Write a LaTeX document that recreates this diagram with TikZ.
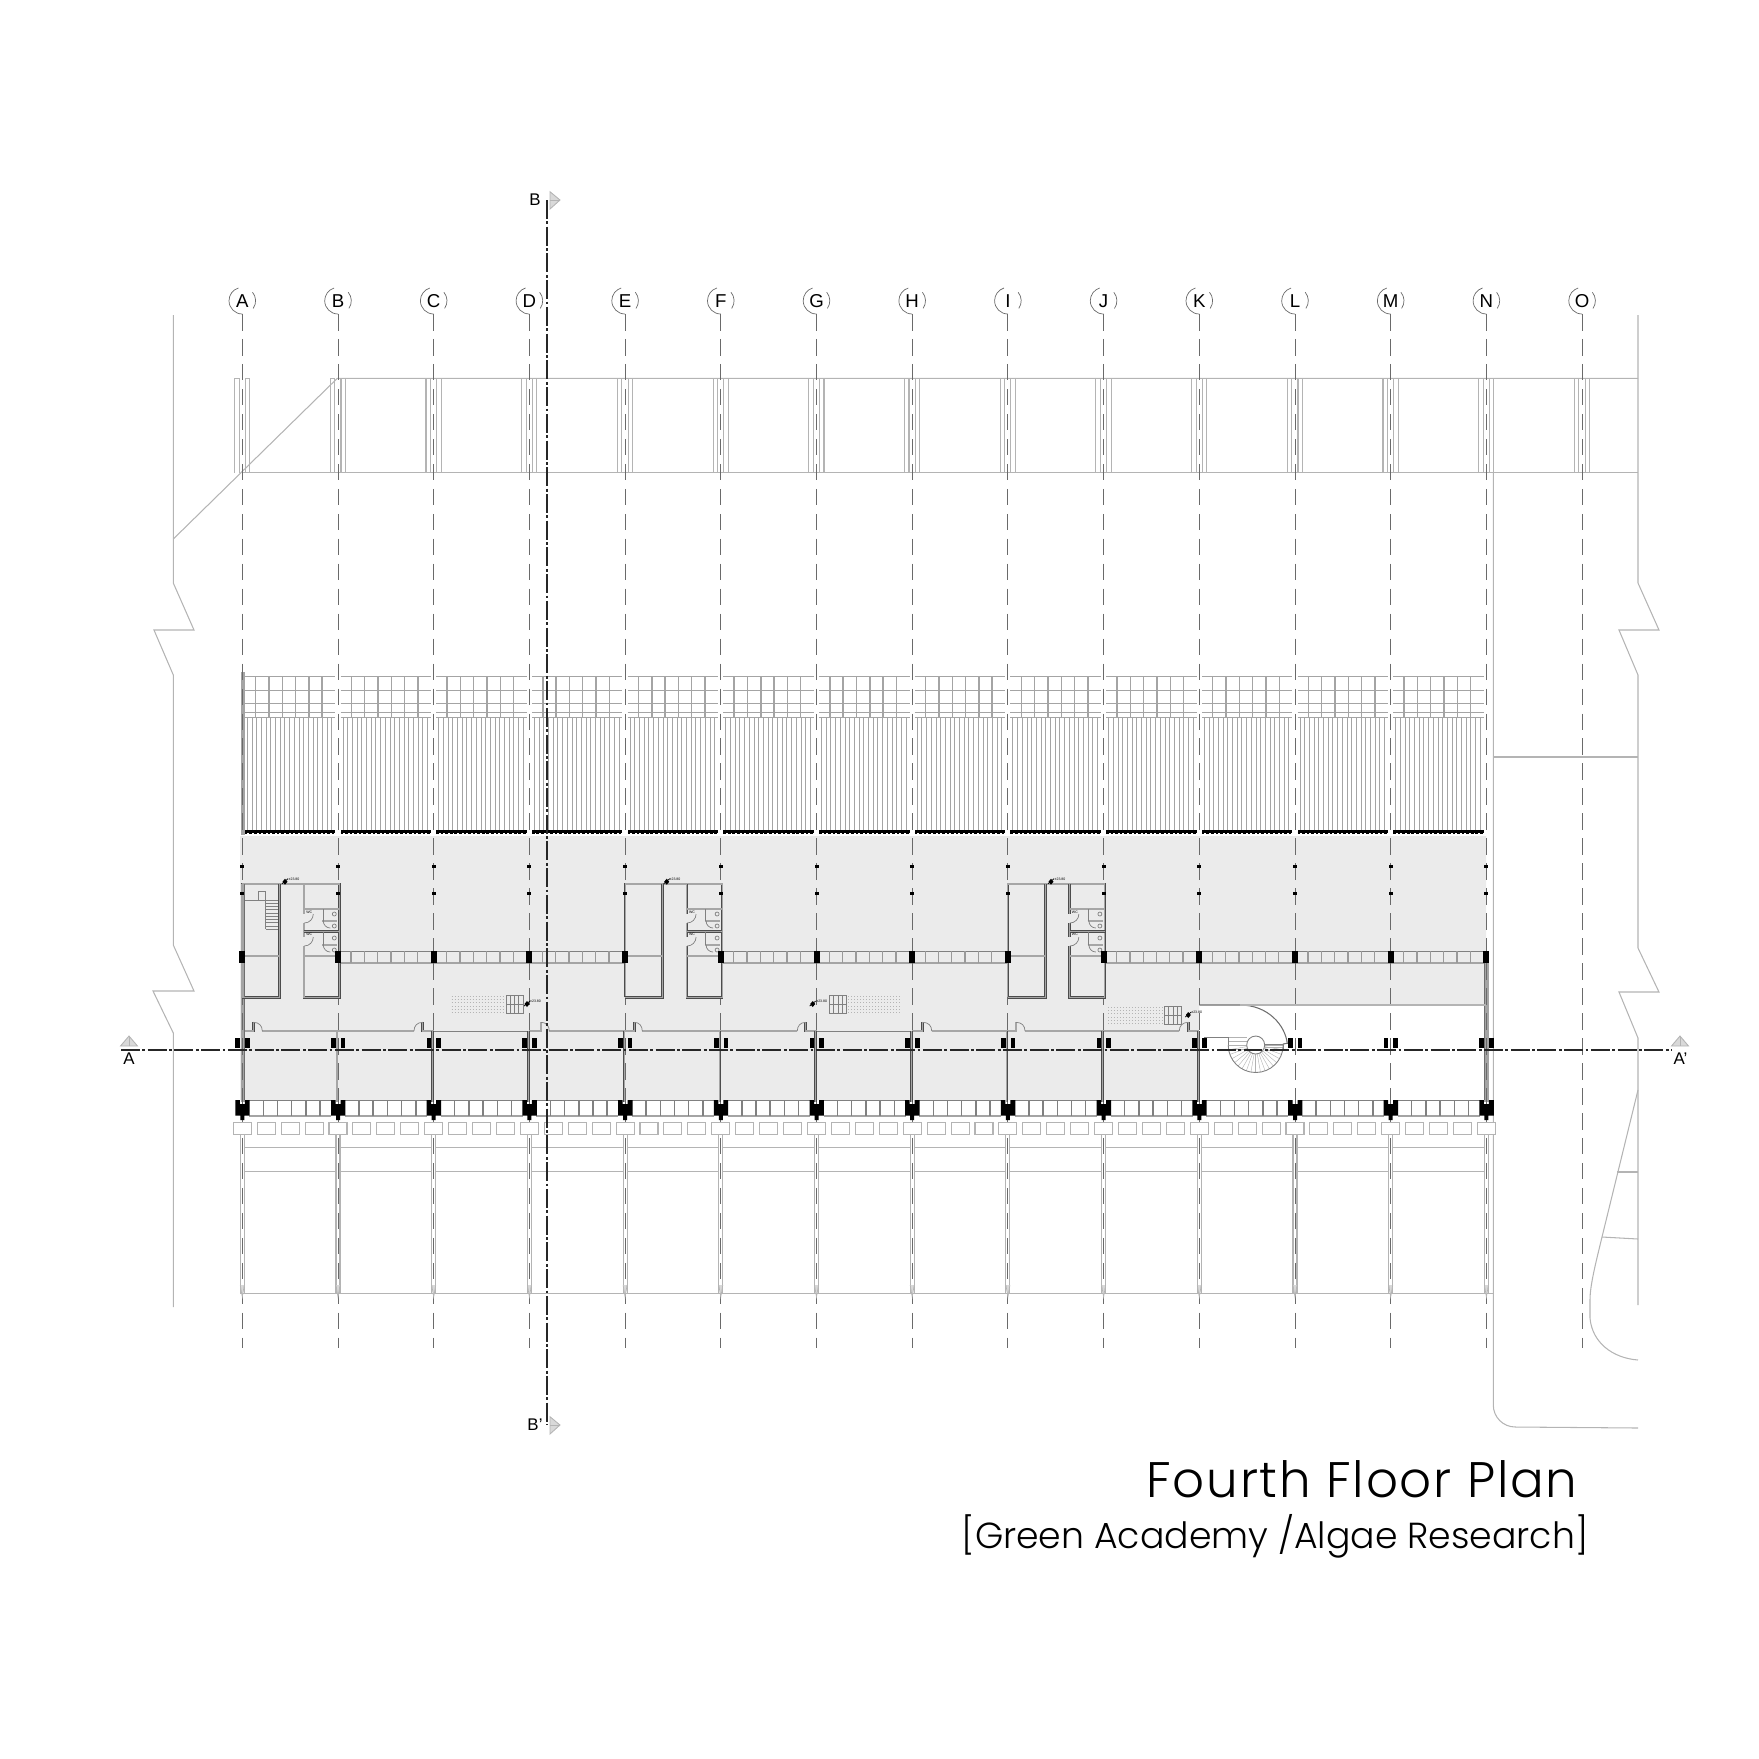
\documentclass[tikz,border=0pt]{standalone}
\usepackage{fontspec}
\setmainfont{Liberation Sans}
\newfontfamily\titlefont[LetterSpace=3.5]{Poppins Light}
\newfontfamily\subtitlefont{Poppins Light}
\usepackage{xcolor}
\definecolor{floorgray}{HTML}{EBEBEB}
\definecolor{sitegray}{HTML}{B4B4B4}
\definecolor{wallgray}{HTML}{6E6E6E}
\definecolor{thickgray}{HTML}{A4A4A4}
\definecolor{gridgray}{HTML}{6A6A6A}
\tikzset{
  siteline/.style={draw=sitegray, line width=0.3pt},
  gridline/.style={draw=gridgray, line width=0.28pt, dash pattern=on 4.7pt off 2.4pt},
  sectionline/.style={draw=black!85, line width=0.6pt, dash pattern=on 5.4pt off .7pt on .8pt off .7pt},
  wall/.style={draw=black!70, line width=0.22pt, double=black!35, double distance=0.3pt},
  thinline/.style={draw=gray, line width=0.2pt},
  bubble/.style={font=\fontsize{5.3}{6}\selectfont, inner sep=0pt},
  seclabel/.style={font=\fontsize{4.8}{6}\selectfont, inner sep=0pt},
  level/.style={font=\fontsize{1}{1.2}\selectfont, inner sep=0pt},
  secarrow/.style={draw=sitegray, fill=black!15, line width=0.25pt},
}
\begin{document}
\begin{tikzpicture}[x=0.01cm, y=-0.01cm]
    \useasboundingbox (0,0) rectangle (1759,1759);
    % floor
    \fill[floorgray] (240,836) -- (1486,836) -- (1486,1005) -- (1199.3,1005) -- (1199.3,1100) -- (240,1100) -- cycle;
    % site lines
    \draw[siteline] (173.3,315) -- (173.3,583) -- (194,630) -- (154,630) -- (173.3,675) -- (173.3,945) -- (194,991) -- (153,991) -- (173.3,1033) -- (173.3,1307);
    \draw[siteline] (1638,315) -- (1638,583) -- (1659,630) -- (1619,630) -- (1638,675) -- (1638,948) -- (1659,992) -- (1619,992) -- (1638,1038) -- (1638,1305);
    \draw[siteline] (173.3,539) -- (337.3,378.3) -- (1638,378.3);
    \draw[siteline] (242.3,472.7) -- (1638,472.7);
    \draw[siteline] (1493.3,472.7) -- (1493.3,1405) arc[start angle=180, end angle=90, radius=22] -- (1638,1428);
    \draw[siteline] (1493.3,757) -- (1638,757);
    \draw[siteline] (1638,1090) -- (1602,1237) .. controls (1596,1262) and (1590,1285) .. (1590,1300) -- (1590,1318) .. controls (1592,1342) and (1612,1358) .. (1638,1360);
    \draw[siteline] (1617,1172) -- (1638,1172);
    \draw[siteline] (1602,1237) -- (1638,1239);
    \draw[siteline] (240,1293.3) -- (1493.3,1293.3);
    % roof columns
    \foreach \c in {0,...,14} {
      \pgfmathsetmacro\gx{242.3+95.7*\c}
      \draw[shift={(\gx,0)}, siteline] (-7.7,472.7) -- (-7.7,378.3) -- (-3.2,378.3) -- (-3.2,472.7);
      \draw[shift={(\gx,0)}, siteline] (3,472.7) -- (3,378.3) -- (7.5,378.3) -- (7.5,472.7);
    }
    % bays
    \foreach \i in {0,...,12} {
      \pgfmathsetmacro\gx{242.3+95.7*\i}
      \begin{scope}[shift={(\gx,0)}]
        \foreach \yy in {676.7,690.7,703.3,712.3,717.3}
          \draw[thickgray, line width=0.4pt] (2.5,\yy) -- (93,\yy);
        \foreach \k in {0,...,5}
          \draw[thickgray, line width=0.4pt] (13.4+13.3*\k,676.7) -- (13.4+13.3*\k,717.3);
        \foreach \k in {0,...,18}
          \draw[thickgray, line width=0.25pt] (5+4.7*\k,717.3) -- (5+4.7*\k,830);
        \fill[black] (2.5,830) rectangle (93,832.8);
        \draw[black, line width=0.5pt, dash pattern=on .75pt off .55pt] (2.5,833) -- (93,833);
        % rail
        \draw[gray, line width=0.25pt] (7,1100) -- (89,1100);
        \draw[thickgray, line width=0.45pt] (7,1115.7) -- (89,1115.7);
        \foreach \k in {0,...,4}
          \draw[gray, line width=0.4pt] (21+14.2*\k,1100) -- (21+14.2*\k,1115.7);
        % terrace
        \draw[siteline] (2,1147.3) -- (93.7,1147.3);
        \draw[siteline] (2,1171.3) -- (93.7,1171.3);
      \end{scope}
    }
    % corridor strips
    \foreach \i in {1,2,3,5,6,7,9,10,11,12} {
      \pgfmathsetmacro\gx{242.3+95.7*\i}
      \begin{scope}[shift={(\gx,0)}]
        \draw[gray, line width=0.25pt] (0,951) -- (95.7,951);
        \draw[thickgray, line width=0.5pt] (0,963) -- (95.7,963);
        \foreach \k in {0,...,5}
          \draw[gray!80, line width=0.35pt] (13+13.3*\k,951) -- (13+13.3*\k,963);
      \end{scope}
    }
    % walls along the corridor
    \draw[thinline] (432.7,1031) -- (529.4,1031);
    \draw[thinline] (816.5,1031) -- (912.2,1031);
    \draw[wall] (244.7,1031) -- (253.3,1031) -- (253.3,1022.3);
    \draw[wall] (262.3,1031) -- (414,1031);
    \draw[wall] (422.7,1022.3) -- (422.7,1031) -- (433.7,1031);
    \draw[wall] (529.4,1031) -- (541,1031) -- (541,1022.3);
    \draw[wall] (549.3,1031) -- (634.3,1031) -- (634.3,1022.3);
    \draw[wall] (642.3,1031) -- (797.3,1031);
    \draw[wall] (805.7,1022.3) -- (805.7,1031) -- (816.5,1031);
    \draw[wall] (912.2,1031) -- (922.7,1031) -- (922.7,1022.3);
    \draw[wall] (931.7,1031) -- (1016,1031) -- (1016,1022.3);
    \draw[wall] (1025,1031) -- (1179.3,1031);
    \draw[wall] (1188.3,1022.3) -- (1188.3,1031) -- (1199.3,1031);
    % door swings
    \foreach \xa/\xb in {253.3/262.3, 541/549.3, 634.3/642.3, 922.7/931.7, 1016/1025}
      \draw[thinline] (\xa,1022.3) .. controls (\xb-3,1022.3) and (\xb,1026) .. (\xb,1031);
    \foreach \xa/\xb in {422.7/414, 805.7/797.3, 1188.3/1179.3}
      \draw[thinline] (\xa,1022.3) .. controls (\xb+3,1022.3) and (\xb,1026) .. (\xb,1031);
    % thick walls
    \fill[thickgray] (240.7,672.3) rectangle (245,835);
    \fill[thickgray] (240.7,997) rectangle (244.7,1102);
    \draw[wallgray, line width=0.25pt] (244.7,997) -- (244.7,1100);
    \fill[thickgray] (1484,963) rectangle (1488.7,1102);
    \draw[wallgray, line width=0.25pt] (1484,963) -- (1484,1100);
    % grid lines and bubbles
    \foreach \g [count=\c from 0] in {A,...,O} {
      \pgfmathsetmacro\gx{242.3+95.7*\c}
      \draw[gridline] (\gx,314) -- (\gx,1348);
      \node[bubble] (bub\g) at (\gx,300.7) {\g};
      \draw[gridgray, line width=0.2pt] (\gx,314) arc[start angle=90, end angle=253, radius=13.3];
      \draw[gridgray, line width=0.2pt] ({\gx+10.2},292.2) arc[start angle=-40, end angle=35, radius=13.3];
    }
    % columns
    \foreach \c in {0,...,13} {
      \pgfmathsetmacro\gx{242.3+95.7*\c}
      \begin{scope}[shift={(\gx,0)}]
        \fill[black] (-2,865.2) rectangle (2,868.2);
        \fill[black] (-2,891.8) rectangle (2,894.8);
        \fill[black] (-3,951) rectangle (3,963.3);
        \fill[black] (-7,1037.7) rectangle (-2.3,1047.7);
        \fill[black] (2.7,1037.7) rectangle (7.3,1047.7);
        \fill[black] (-7,1100) -- (-2.5,1100) -- (-2.5,1104) -- (2.5,1104) -- (2.5,1100) -- (7.4,1100) -- (7.4,1115.7) -- (2,1115.7) -- (2,1120) -- (-2,1120) -- (-2,1115.7) -- (-7,1115.7) -- cycle;
        \draw[sitegray, line width=0.3pt] (-2,1134) -- (-2,1293.3);
        \draw[sitegray, line width=0.3pt] (2,1134) -- (2,1293.3);
        \draw[sitegray, line width=0.2pt, fill=black!15] (-2,1285) -- (0,1297) -- (2,1285);
      \end{scope}
    }
    % inner walls between corridor and rail
    \foreach \c in {1,...,10} {
      \pgfmathsetmacro\gx{242.3+95.7*\c}
      \draw[wall] (\gx-1,1031) -- (\gx-1,1102);
    }
    % plinth
    \foreach \k in {0,...,52}
      \draw[sitegray, fill=white, line width=0.3pt] ({242.3+23.925*\k-9},1122.3) rectangle ({242.3+23.925*\k+9},1134.3);
    % cores
    \foreach \c in {0,4,8} {
      \pgfmathsetmacro\gx{242.3+95.7*\c}
      \begin{scope}[shift={(\gx,0)}]
        \fill[floorgray] (-1,884) rectangle (98,997.3);
        \draw[wall] (0,997.3) -- (0,884) -- (97,884) -- (97,997.3) -- (61.7,997.3) -- (61.7,946);
        \draw[wall] (0,997.3) -- (37.5,997.3) -- (37.5,884);
        \draw[wall] (0,956) -- (37.5,956);
        \draw[wall] (61.7,884) -- (61.7,914);
        \draw[wall] (61.7,923) -- (61.7,937);
        \draw[wall] (61.7,956) -- (97,956);
        \draw[wall] (61.7,909) -- (97,909);
        \draw[wall] (61.7,931.7) -- (97,931.7);
        \draw[wall] (80,921) -- (95,921);
        \draw[wall] (80,945) -- (95,945);
        \draw[thinline] (80.7,909) -- (80.7,921);
        \draw[thinline] (80.7,931.7) -- (80.7,945);
        % doors and fixtures
        \draw[thinline] (71,914) arc[start angle=0, end angle=90, radius=9];
        \draw[thinline] (71,937) arc[start angle=0, end angle=90, radius=9];
        \draw[thinline] (81,921) arc[start angle=180, end angle=90, radius=7];
        \draw[thinline] (81,945) arc[start angle=180, end angle=90, radius=7];
        \foreach \yy in {914,926,938,950}
          \draw[thinline] (92,\yy) circle (2);
        \node[level] (wcu\c) at (67,912.3) {WC};
        \node[level] (wcl\c) at (67,934.7) {WC};
      \end{scope}
      \fill[black] (\gx-3,951) rectangle (\gx+3,963.3);
      \fill[black] (\gx+92.7,951) rectangle (\gx+98.7,963.3);
      \fill[black] (\gx-2,891.8) rectangle (\gx+2,894.8);
      \fill[black] (\gx+93.7,891.8) rectangle (\gx+97.7,894.8);
    }
    \fill[thickgray] (240.7,884) rectangle (244.7,997.3);
    \draw[wallgray, line width=0.25pt] (244.7,884) -- (244.7,997.3);
    \fill[black] (240,951) rectangle (245,963.3);
    \fill[black] (240.3,891.8) rectangle (244.3,894.8);
    % core stair
    \draw[thinline] (244.7,900) -- (265.7,900);
    \draw[thinline] (258.3,891.7) rectangle (265,900);
    \foreach \k in {0,...,9}
      \draw[thinline] (265.7,900+3.25*\k) -- (278.3,900+3.25*\k);
    \draw[thinline] (265.7,900) -- (265.7,929.3);
    % small stairs with dotted landing
    \foreach \sx/\sy/\dx/\dw in {506/995/451.7/53, 829.3/995/848.3/53, 1164.3/1006/1108/55} {
      \draw[gray, line width=0.2pt] (\sx,\sy) rectangle (\sx+17,\sy+18.5);
      \foreach \k in {1,...,3}
        \draw[gray, line width=0.15pt] (\sx+4.25*\k,\sy) -- (\sx+4.25*\k,\sy+18.5);
      \draw[gray, line width=0.15pt] (\sx,\sy+9.2) -- (\sx+17,\sy+9.2);
      \foreach \yy in {0,...,5}
        \draw[sitegray, line width=0.2pt, dash pattern=on .25pt off .6pt] (\dx,\sy+1+3.3*\yy) -- (\dx+\dw,\sy+1+3.3*\yy);
    }
    % spiral stair
    \draw[wallgray, line width=0.3pt] (1199.3,1005) -- (1240,1005) .. controls (1268,1005) and (1285,1025) .. (1287.3,1043.3) -- (1283,1044);
    \draw[siteline] (1240,1005) -- (1486,1005);
    \draw[gray, line width=0.25pt] (1204,1037.3) -- (1246,1037.3);
    \draw[gray, line width=0.25pt] (1265,1044) -- (1283,1044) -- (1283,1050);
    \foreach \yy in {1037.3,1041,1045,1049}
      \draw[black!30, line width=0.12pt] (1228.3,\yy) -- (1247,\yy);
    \foreach \yy in {1047,1050}
      \draw[black!30, line width=0.12pt] (1265,\yy) -- (1283,\yy);
    \draw[gray, line width=0.25pt] (1228.3,1037.3) -- (1228.3,1045);
    \foreach \t in {0,10,...,180}
      \draw[black!30, line width=0.12pt] ({1255.7+9*cos(\t)},{1045+9*sin(\t)}) -- ({1255.7+27.5*cos(\t)},{1045+27.5*sin(\t)});
    \draw[gray, line width=0.25pt] (1283.2,1045) arc[start angle=0, end angle=180, radius=27.5];
    \draw[gray, line width=0.25pt, fill=white] (1255.7,1045) circle (9);
    % level marks
    \foreach \mx/\my/\tx/\ty/\lab in {285/881.7/294/879.7/la, 666.7/881.7/675/879.7/lb, 1051/881.7/1060/879.7/lc, 527/1004/535.5/1001.7/ld, 812.7/1004/821.7/1001.7/le, 1188.3/1015/1196.7/1012.7/lf} {
      \fill[black] (\mx,\my-3) -- (\mx+2.5,\my) -- (\mx,\my+3) -- (\mx-2.5,\my) -- cycle;
      \draw[black, line width=0.2pt] (\mx-3,\my+2) -- (\mx+3,\my-3);
      \node[level] (\lab) at (\tx,\ty) {±23.80};
    }
    % sections
    \draw[sectionline] (121,1050) -- (1672,1050);
    \draw[sectionline] (546.7,200) -- (546.7,1425);
    \draw[secarrow] (120.5,1046) -- (129,1036) -- (137.5,1046) -- cycle;
    \draw[secarrow] (129,1036) -- (129,1046);
    \draw[secarrow] (1671.5,1046) -- (1680,1036) -- (1688.5,1046) -- cycle;
    \draw[secarrow] (1680,1036) -- (1680,1046);
    \draw[secarrow] (550,191.7) -- (560,200) -- (550,209) -- cycle;
    \draw[secarrow] (550,200) -- (560,200);
    \draw[secarrow] (550,1416.7) -- (560,1425) -- (550,1434) -- cycle;
    \draw[secarrow] (550,1425) -- (560,1425);
    \node[seclabel] (secA) at (129,1058.5) {A};
    \node[seclabel] (secAp) at (1680.5,1058.5) {A'};
    \node[seclabel] (secB) at (535,199.5) {B};
    \node[seclabel] (secBp) at (535,1425) {B'};
    % title
    \node[anchor=base east, inner sep=0pt, font=\titlefont\fontsize{14.2}{16}\selectfont] (title) at (1578,1497) {Fourth Floor Plan};
    \node[anchor=base east, inner sep=0pt, font=\subtitlefont\fontsize{10.3}{12}\selectfont] (subtitle) at (1589,1548) {[Green Academy /Algae Research]};
\end{tikzpicture}
\end{document}
